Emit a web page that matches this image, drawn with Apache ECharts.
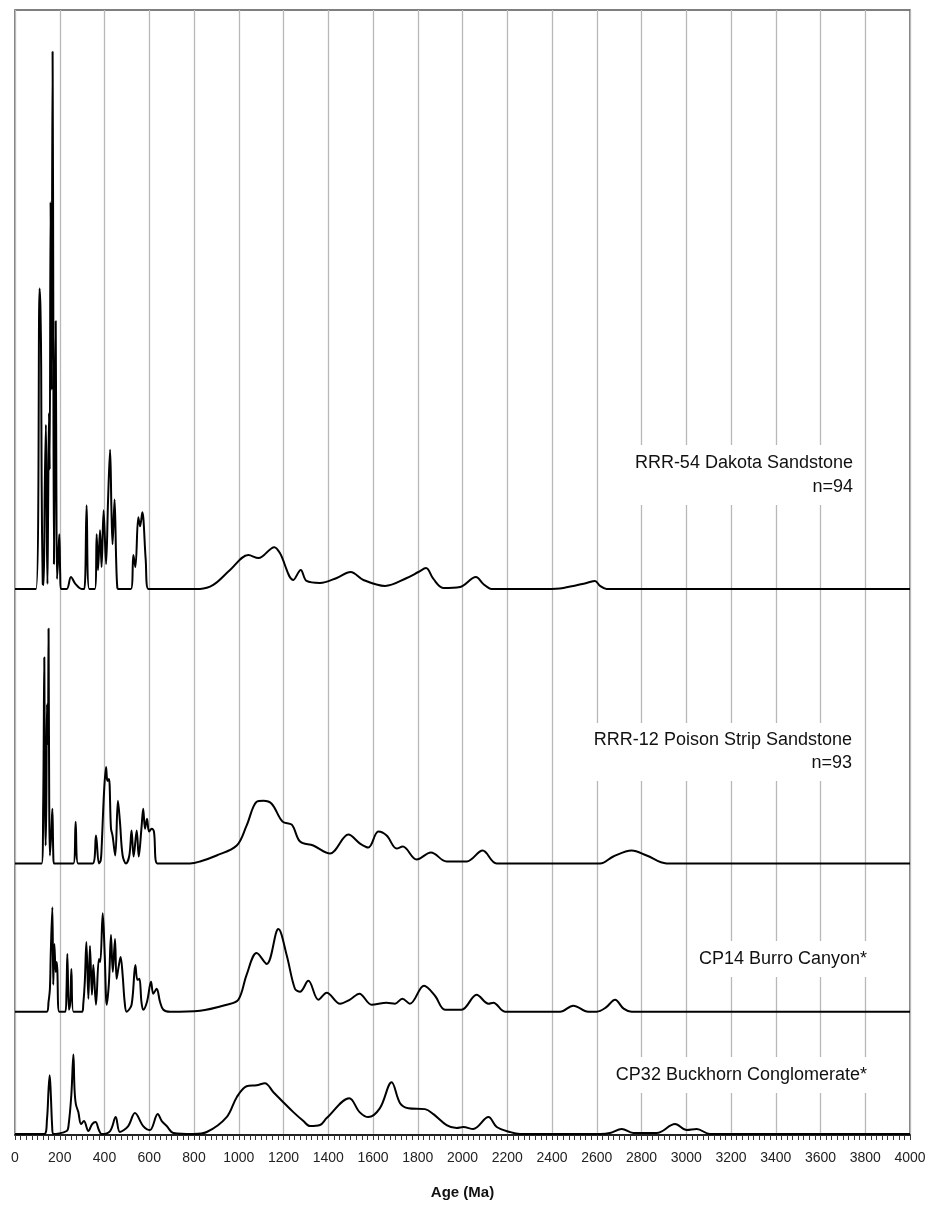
<!DOCTYPE html>
<html>
<head>
<meta charset="utf-8">
<script src="https://cdn.jsdelivr.net/npm/echarts@6/dist/echarts.min.js"></script>
<style>
  html, body { margin: 0; padding: 0; background: #fff; }
  #chart { width: 929px; height: 1205px; }
</style>
</head>
<body>
<div id="chart"></div>
<script>
  // x ticks (Ma)
  const xTicks = [0, 200, 400, 600, 800, 1000, 1200, 1400, 1600, 1800, 2000, 2200, 2400, 2600, 2800, 3000, 3200, 3400, 3600, 3800, 4000];

  // sample names (label text)
  const sampleNames = ['RRR-54 Dakota Sandstone\nn=94', 'RRR-12 Poison Strip Sandstone\nn=93', 'CP14 Burro Canyon*', 'CP32 Buckhorn Conglomerate*'];

  // stacking offset of each curve (same units as density heights)
  const baseOffsets = [549, 273, 124, 1];

  // RRR-54 Dakota Sandstone
  const agesDakota = [0, 94, 110, 114, 117, 119, 124, 128, 133, 138, 142, 145, 148, 152, 155, 159, 163, 168, 171, 174, 178, 182, 185, 188, 193, 198, 202, 205, 231, 250, 270, 298, 310, 320, 332, 357, 365, 371, 380, 387, 396, 407, 416, 425, 431, 436, 445, 452, 457, 462, 518, 529, 538, 551, 559, 569, 584, 596, 827, 886, 961, 1043, 1088, 1159, 1184, 1244, 1277, 1303, 1363, 1438, 1500, 1557, 1654, 1751, 1803, 1837, 1870, 1914, 1989, 2060, 2093, 2130, 2376, 2451, 2555, 2592, 2615, 2644, 4000];
  const densDakota = [0, 0, 302, 280, 222, 110, 5, 4, 100, 165, 60, 5, 80, 177, 120, 389, 200, 540, 300, 25, 150, 269, 100, 10, 30, 55, 15, 0, 0, 12, 5, 0, 0, 84, 0, 0, 55, 19, 59, 22, 79, 25, 90, 140, 80, 45, 90, 30, 2, 0, 0, 34, 22, 72, 63, 77, 30, 0, 0, 4, 19, 34, 31, 42, 36, 9, 19, 8, 6, 11, 17, 9, 3, 11, 17, 21, 10, 1, 2, 12, 5, 0, 0, 1, 6, 8, 3, 0, 0];

  // RRR-12 Poison Strip Sandstone
  const agesPoison = [0, 119, 126, 131, 134, 137, 140, 143, 147, 150, 153, 156, 162, 167, 171, 174, 261, 271, 282, 347, 362, 375, 383, 387, 398, 407, 411, 414, 420, 429, 436, 448, 460, 469, 481, 496, 511, 521, 530, 544, 553, 565, 573, 581, 590, 599, 611, 621, 636, 782, 827, 901, 991, 1035, 1080, 1110, 1147, 1196, 1237, 1274, 1333, 1408, 1490, 1542, 1579, 1624, 1661, 1706, 1733, 1795, 1859, 1929, 2019, 2090, 2153, 2615, 2674, 2756, 2823, 2912, 4000];
  const densPoison = [0, 0, 60, 207, 60, 18, 60, 160, 120, 236, 60, 8, 30, 55, 10, 0, 0, 42, 0, 0, 28, 0, 3, 15, 72, 97, 85, 83, 85, 35, 28, 8, 63, 42, 8, 0, 8, 33, 7, 33, 7, 35, 55, 35, 45, 32, 35, 32, 0, 0, 2, 8, 18, 38, 62, 63, 60, 42, 39, 22, 18, 10, 29, 20, 16, 32, 28, 15, 17, 4, 11, 2, 2, 13, 0, 0, 7, 13, 8, 0, 0];

  // CP14 Burro Canyon*
  const agesBurro = [0, 142, 150, 156, 160, 167, 171, 176, 182, 186, 189, 198, 225, 230, 234, 241, 247, 252, 261, 300, 305, 312, 319, 328, 335, 344, 350, 362, 375, 381, 392, 401, 410, 420, 429, 437, 447, 454, 463, 472, 481, 490, 499, 521, 538, 547, 556, 565, 573, 590, 608, 618, 633, 648, 663, 693, 827, 946, 998, 1035, 1080, 1125, 1177, 1214, 1251, 1274, 1311, 1356, 1393, 1453, 1497, 1539, 1594, 1661, 1698, 1731, 1765, 1828, 1877, 1922, 1996, 2063, 2116, 2138, 2190, 2436, 2495, 2562, 2600, 2640, 2682, 2720, 2756, 4000];
  const densBurro = [0, 0, 10, 23, 60, 105, 27, 68, 40, 50, 43, 0, 0, 20, 58, 2, 10, 43, 0, 0, 7, 30, 70, 13, 66, 17, 47, 7, 53, 50, 99, 57, 7, 30, 77, 40, 73, 33, 45, 55, 37, 10, 0, 7, 47, 32, 33, 10, 2, 10, 30, 18, 23, 10, 2, 0, 1, 7, 12, 37, 59, 48, 83, 57, 23, 20, 31, 12, 19, 8, 12, 18, 7, 9, 8, 13, 8, 26, 16, 2, 2, 17, 8, 9, 0, 0, 6, 0, 0, 4, 12, 3, 0, 0];

  // CP32 Buckhorn Conglomerate*
  const agesBuckhorn = [0, 131, 143, 150, 155, 160, 166, 171, 231, 240, 252, 261, 266, 272, 283, 295, 308, 328, 345, 360, 375, 387, 425, 450, 469, 506, 536, 573, 603, 638, 656, 678, 708, 797, 857, 946, 991, 1035, 1080, 1117, 1155, 1199, 1244, 1289, 1318, 1363, 1393, 1494, 1540, 1579, 1631, 1683, 1721, 1758, 1832, 1870, 1929, 1974, 2004, 2048, 2116, 2153, 2212, 2257, 2615, 2659, 2712, 2763, 2868, 2950, 3002, 3047, 3106, 4000];
  const densBuckhorn = [0, 0, 15, 45, 59, 40, 8, 0, 3, 10, 40, 80, 45, 30, 22, 10, 13, 3, 10, 12, 4, 0, 3, 17, 2, 8, 21, 8, 4, 20, 13, 8, 1, 0, 2, 17, 37, 48, 49, 51, 42, 32, 22, 13, 8, 9, 16, 36, 22, 17, 26, 52, 31, 26, 25, 20, 9, 6, 7, 5, 17, 7, 2, 0, 0, 1, 5, 1, 1, 10, 4, 5, 0, 0];

  const curves = [
    [agesDakota, densDakota],
    [agesPoison, densPoison],
    [agesBurro, densBurro],
    [agesBuckhorn, densBuckhorn]
  ];

  const myEcharts = echarts.init(document.getElementById('chart'));

  const seriesArr = curves.map((c, idx) => ({
    type: 'line',
    name: sampleNames[idx],
    data: c[0].map((a, i) => [a, baseOffsets[idx] + c[1][i]]),
    showSymbol: false,
    smooth: 0.35,
    lineStyle: { color: '#000', width: 2 },
    z: 3
  }));

  const labelFont = '18px "Liberation Sans", Arial, sans-serif';
  // label boxes (white background hides the grid lines behind the text)
  const labels = [
    { text: sampleNames[0], right: 858, y: 475, lh: 24 },
    { text: sampleNames[1], right: 857, y: 752, lh: 23 },
    { text: sampleNames[2], right: 872, y: 959, lh: 24 },
    { text: sampleNames[3], right: 872, y: 1075, lh: 24 }
  ];

  const option = {
    backgroundColor: '#fff',
    animation: false,
    grid: {
      show: true,
      left: 15,
      right: 19,
      top: 10,
      bottom: 64,
      borderColor: '#555',
      borderWidth: 1.5
    },
    xAxis: {
      type: 'value',
      min: xTicks[0],
      max: xTicks[xTicks.length - 1],
      interval: xTicks[1] - xTicks[0],
      name: 'Age (Ma)',
      nameLocation: 'middle',
      nameGap: 50,
      nameTextStyle: {
        fontFamily: '"Liberation Sans", Arial, sans-serif',
        fontWeight: 'bold',
        fontSize: 15,
        color: '#111'
      },
      axisLine: { show: true, onZero: false, lineStyle: { color: '#222', width: 1.8 } },
      axisTick: { show: true, length: 5, lineStyle: { color: '#333', width: 1 } },
      minorTick: { show: true, splitNumber: 8, length: 5, lineStyle: { color: '#333', width: 1 } },
      axisLabel: {
        margin: 16,
        fontFamily: '"Liberation Sans", Arial, sans-serif',
        fontSize: 14,
        color: '#222',
        formatter: v => String(v)
      },
      splitLine: { show: true, lineStyle: { color: '#b8b8b8', width: 1.3 } }
    },
    yAxis: {
      type: 'value',
      min: 0,
      max: 1131,
      show: false,
      splitLine: { show: false }
    },
    graphic: labels.map(l => ({
      type: 'text',
      z: 10,
      x: l.right,
      y: l.y,
      style: {
        text: l.text,
        font: labelFont,
        fill: '#111',
        align: 'right',
        verticalAlign: 'middle',
        lineHeight: l.lh,
        backgroundColor: '#fff',
        padding: [6, 5, 6, 6]
      }
    })),
    series: seriesArr
  };
  myEcharts.setOption(option);
</script>
</body>
</html>
